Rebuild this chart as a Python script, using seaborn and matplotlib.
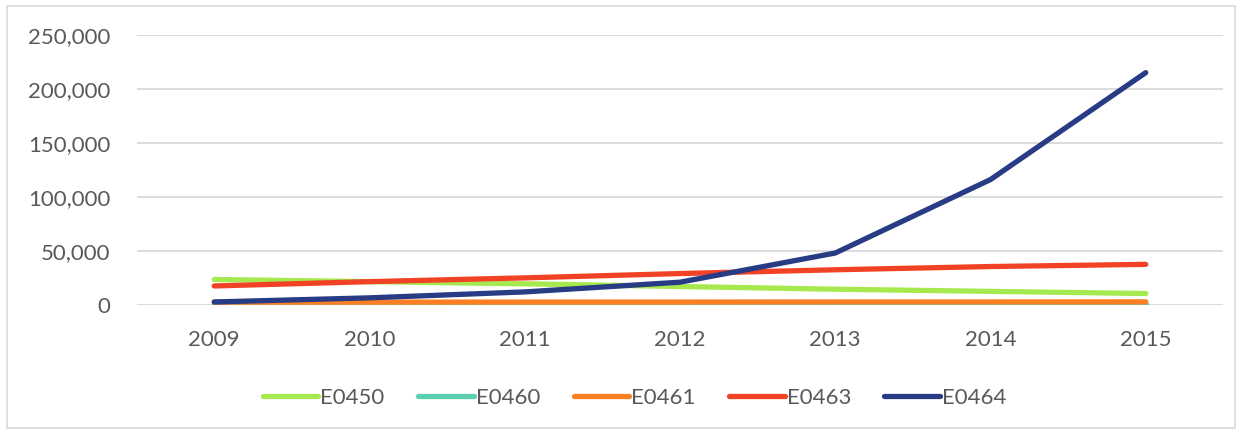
import pandas as pd
import matplotlib.pyplot as plt
import seaborn as sns
from matplotlib.patches import Rectangle
from matplotlib.ticker import FuncFormatter

# data
years = ["2009", "2010", "2011", "2012", "2013", "2014", "2015"]
e0450 = [23500, 21500, 19500, 17000, 14500, 12500, 10500]
e0460 = [500, 500, 500, 500, 500, 500, 500]
e0461 = [2500, 2500, 2600, 2600, 2700, 2700, 2800]
e0463 = [17500, 21500, 25000, 29000, 32500, 35500, 37500]
e0464 = [2700, 6500, 12000, 21000, 48000, 116000, 215000]
codes = ["E0450", "E0460", "E0461", "E0463", "E0464"]
colors = ["#a6e94f", "#5ccfb0", "#fd7f23", "#f24225", "#283b85"]

series = dict(zip(codes, [e0450, e0460, e0461, e0463, e0464]))
df = pd.DataFrame([
    {"Year": y, "Code": c, "Value": v}
    for c in codes for y, v in zip(years, series[c])
])

sns.set_style("white")
plt.rcParams['font.family'] = ['Lato', 'DejaVu Sans']

fig = plt.figure(figsize=(12.42, 4.30), dpi=100)
ax = fig.add_axes([0.110, 0.291, 0.875, 0.628])

sns.lineplot(data=df, x="Year", y="Value", hue="Code", hue_order=codes,
             palette=colors, linewidth=3.8, ax=ax, sort=False,
             solid_capstyle="round")

ax.set_ylim(0, 250000)
ax.set_xlim(-0.5, 6.5)
ax.set_yticks(range(0, 250001, 50000))
ax.yaxis.set_major_formatter(FuncFormatter(lambda v, p: f"{int(v):,}"))
ax.grid(axis="y", color="#d9d9d9", linewidth=1.3)
ax.set_axisbelow(True)
for s in ax.spines.values():
    s.set_visible(False)
ax.tick_params(axis="both", length=0, labelsize=16, labelcolor="#595959")
ax.tick_params(axis="y", pad=19)
ax.tick_params(axis="x", pad=18)
ax.set_xlabel("")
ax.set_ylabel("")

handles, labels = ax.get_legend_handles_labels()
ax.legend(handles, labels, loc="center", bbox_to_anchor=(0.511, 0.075),
          bbox_transform=fig.transFigure, ncol=5, frameon=False,
          fontsize=16, labelcolor="#595959", handlelength=2.5,
          handletextpad=0.1, columnspacing=1.5)

fig.patches.append(Rectangle((0.006, 0.005), 0.988, 0.982, transform=fig.transFigure,
                             fill=False, edgecolor="#d9d9d9", linewidth=1.2))

fig.savefig("out.png", dpi=100)
